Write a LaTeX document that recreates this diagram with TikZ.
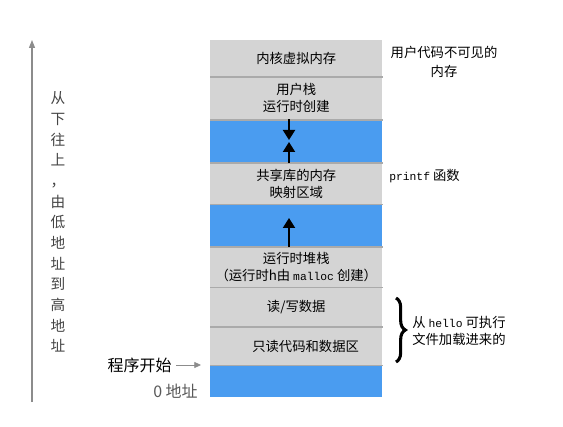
\documentclass[tikz,border=0pt]{standalone}
\usepackage{fontspec}
\setmainfont{Noto Sans CJK SC}
\setmonofont{Liberation Mono}
\usetikzlibrary{arrows.meta,decorations.pathreplacing}
\definecolor{boxgray}{HTML}{D4D4D4}
\definecolor{boxblue}{HTML}{4A9CF0}
\definecolor{sepgray}{HTML}{AAAAAA}
\definecolor{axisgray}{HTML}{8C8C8C}
\definecolor{lefttext}{HTML}{444444}
\newcommand{\pxl}[1]{#1*0.75pt}
\newcommand{\mono}[1]{{\fontsize{8.5pt}{10pt}\selectfont\ttfamily #1}}
\begin{document}
\begin{tikzpicture}[x=0.75pt,y=-0.75pt,
  seg/.style={rectangle, inner sep=0pt, anchor=north west, minimum width=\pxl{172},
    align=center, font=\fontsize{10pt}{12.75pt}\selectfont},
  grayseg/.style={seg, fill=boxgray},
  blueseg/.style={seg, fill=boxblue},
  sepline/.style={draw=sepgray, line width=1.1pt},
  flow/.style={line width=1.5pt, -{Triangle[width=9pt,length=7.5pt]}},
  axis/.style={draw=axisgray, line width=0.8pt, -{Triangle[width=4.5pt,length=6pt]}},
  ptr/.style={draw=axisgray, line width=0.6pt, -{Triangle[width=4.5pt,length=5pt]}},
  note/.style={inner sep=0pt, font=\fontsize{10pt}{12.75pt}\selectfont}]
\useasboundingbox (0,0) rectangle (563,427);

% segments
\node[grayseg, minimum height=\pxl{36.5}] (kern) at (210,40) {\raisebox{-2pt}{内核虚拟内存}};
\node[grayseg, minimum height=\pxl{43}] (ustack) at (210,76.5) {用户栈\\运行时创建};
\node[blueseg, minimum height=\pxl{43}] (gap1) at (210,119.5) {};
\node[grayseg, minimum height=\pxl{41.5}] (shlib) at (210,162.5) {共享库的内存\\映射区域};
\node[blueseg, minimum height=\pxl{42.5}] (gap2) at (210,204) {};
\node[grayseg, minimum height=\pxl{40.5}] (heap) at (210,246.5) {运行时堆栈\\（运行时h由 \mono{malloc} 创建）};
\node[grayseg, minimum height=\pxl{39.5}] (rw) at (210,287) {\raisebox{-1pt}{读/写数据}};
\node[grayseg, minimum height=\pxl{38.5}] (ro) at (210,326.5) {\hspace*{14pt}\raisebox{-2pt}{只读代码和数据区}};
\node[blueseg, minimum height=\pxl{32}] (gap3) at (210,365) {};

% separators
\foreach \s in {kern,ustack,gap1,shlib,gap2,heap,rw,ro}
  \draw[sepline] (\s.south west) -- (\s.south east);

% growth arrows
\coordinate (t1) at (289,140);
\coordinate (t2) at (289,142);
\coordinate (t3) at (289,218);
\draw[flow] (t1 |- gap1.north) -- (t1);
\draw[flow] (t2 |- gap1.south) -- (t2);
\draw[flow] (t3 |- gap2.south) -- (t3);

% right annotations
\node[note, align=center, font=\fontsize{10pt}{14.25pt}\selectfont] (invis) at (444,62) {用户代码不可见的\\内存};
\node[note, anchor=west] (pf) at (389,176) {\mono{printf} 函数};
\coordinate (bt) at (396,298);
\coordinate (bb) at (396,362);
\draw[decorate, decoration={brace, amplitude=7pt}, line width=2.3pt] (bt) -- (bb);
\node[note, anchor=west, align=left] (load) at (412,331) {从 \mono{hello} 可执行\\文件加载进来的};

% left axis
\coordinate (ax0) at (32,402);
\coordinate (ax1) at (32,40);
\draw[axis] (ax0) -- (ax1);
\node[inner sep=0pt, align=center, text=lefttext, font=\fontsize{11pt}{15.5pt}\selectfont] (dir) at (58,222)
  {从\\下\\往\\上\\，\\由\\低\\地\\址\\到\\高\\地\\址};

% start marker
\node[note, anchor=east, font=\fontsize{12pt}{14pt}\selectfont] (start) at (172,365) {程序开始};
\coordinate (pend) at (201,365);
\draw[ptr] ([xshift=3pt]start.east) -- (pend);
\node[note, anchor=east, text=black!65, font=\fontsize{12pt}{14pt}\selectfont] (zero) at (198,391) {0 地址};
\end{tikzpicture}
\end{document}
